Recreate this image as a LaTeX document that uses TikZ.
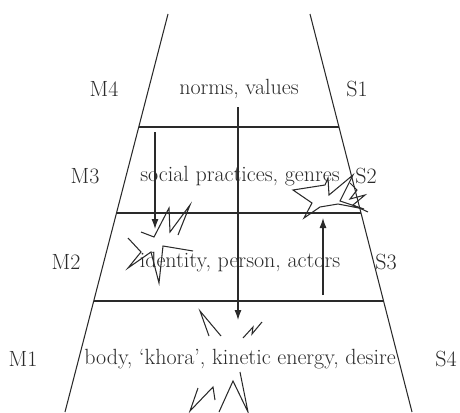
\documentclass[tikz,border=0pt]{standalone}
\usetikzlibrary{arrows.meta,calc}
\definecolor{ink}{HTML}{2A2A2A}
\begin{document}
\begin{tikzpicture}[x=1pt,y=-1pt,
  line width=1.05pt, draw=ink,
  lbl/.style={text=ink,font=\fontsize{22}{26}\selectfont,inner sep=0pt,anchor=center},
  arr/.style={-{Latex[length=10pt,width=7pt]},line width=1.05pt,draw=ink},
  scrib/.style={line width=1.05pt,draw=ink,line join=miter}]
\useasboundingbox (0,0) rectangle (460,412);
% trapezoid sides
\coordinate (TL) at (168,14);
\coordinate (BL) at (65,412);
\coordinate (TR) at (310,14);
\coordinate (BR) at (412,412);
\draw (TL) -- (BL);
\draw (TR) -- (BR);
% horizontal dividers
\coordinate (L1) at ($(TL)!{(127-14)/398}!(BL)$);
\coordinate (R1) at ($(TR)!{(127-14)/398}!(BR)$);
\coordinate (L2) at ($(TL)!{(213-14)/398}!(BL)$);
\coordinate (R2) at ($(TR)!{(213-14)/398}!(BR)$);
\coordinate (L3) at ($(TL)!{(301-14)/398}!(BL)$);
\coordinate (R3) at ($(TR)!{(301-14)/398}!(BR)$);
\draw (L1) -- (R1);
\draw (L2) -- (R2);
\draw (L3) -- (R3);
% texts
\node[lbl] (t4) at (239,89) {norms, values};
\node[lbl] (t3) at (240,176) {social practices, genres};
\node[lbl] (t2) at (240,262) {identity, person, actors};
\node[lbl] (t1) at (240,359) {body, ‘khora’, kinetic energy, desire};
\node[lbl] (m4) at (104,89) {M4};
\node[lbl] (s1) at (357,89) {S1};
\node[lbl] (m3) at (85,176) {M3};
\node[lbl] (s2) at (366,176) {S2};
\node[lbl] (m2) at (66,262) {M2};
\node[lbl] (s3) at (386,262) {S3};
\node[lbl] (m1) at (23,359) {M1};
\node[lbl] (s4) at (446,359) {S4};
% arrows
\coordinate (a1s) at (238,107);
\coordinate (a1e) at (238,320);
\coordinate (a2s) at (155,132);
\coordinate (a2e) at (155,229);
\coordinate (a3s) at (323,295);
\coordinate (a3e) at (323,218);
\draw[arr] (a1s) -- (a1e);
\draw[arr] (a2s) -- (a2e);
\draw[arr] (a3s) -- (a3e);
% scribbles near left arrow
\draw[scrib] (141,232) -- (154,237) -- (169,208) -- (170,232) -- (190,205) -- (178,235);
\draw[scrib] (128,238) -- (141,252) -- (128,268) -- (151,252) -- (159,283) -- (163,246) -- (193,251);
% star near S2
\draw[scrib] (293,190) -- (325,185) -- (328,178) -- (329,195) -- (353,175) -- (340,201) -- (364,209)
  -- (338,204) -- (320,207) -- (304,218) -- (312,203) -- cycle;
\draw[scrib] (350,183) -- (357,190) -- (350,199) -- (365,195) -- (353,205) -- (368,212);
% scribbles in bottom band
\draw[scrib] (209,336) -- (200,311) -- (221,336);
\draw[scrib] (243,338) -- (253,327) -- (252,334) -- (262,322);
\draw[scrib] (198,388) -- (190,411) -- (213,387) -- (215,400);
\draw[scrib] (219,412) -- (233,381) -- (248,412) -- (240,372);
\end{tikzpicture}
\end{document}
